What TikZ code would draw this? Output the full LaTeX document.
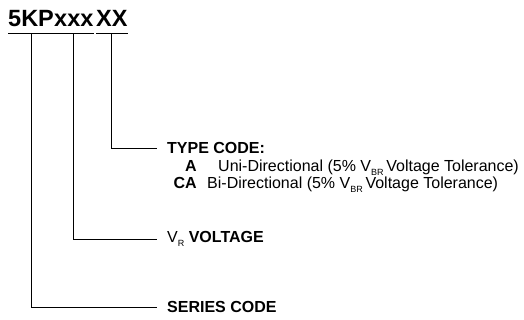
\documentclass[tikz,border=0pt]{standalone}
\usepackage{fontspec}
\setmainfont{Liberation Sans}
\usetikzlibrary{positioning}

\newcommand{\lowsub}[1]{\raisebox{-0.45ex}{\fontsize{9}{9}\selectfont #1}}

\tikzset{
  part/.style={inner sep=0pt, anchor=base west, font=\fontsize{23.5}{26}\selectfont\bfseries},
  label/.style={anchor=west, inner xsep=10pt, inner ysep=0pt, font=\fontsize{16}{19}\selectfont},
  row/.style={inner sep=0pt, font=\fontsize{16}{19}\selectfont},
  wire/.style={line width=0.8pt}
}

\begin{document}
\begin{tikzpicture}[x=1pt,y=-1pt]
\useasboundingbox (0,0) rectangle (524,320);
% part number pieces
\node[part] (kp)  at (8,27)  {5KP};
\node[part] (xxx) at (54,27) {xxx};
\node[part] (xx)  at (96,27) {XX};
\foreach \p in {kp,xxx,xx}
  \draw[wire] ([yshift=-6pt]\p.south west) -- ([yshift=-6pt]\p.south east);
% labels
\node[label] (type)   at (157,148) {\bfseries TYPE CODE:};
\node[label] (volt)   at (157,239) {V\lowsub{R} \bfseries VOLTAGE};
\node[label] (series) at (157,307) {\bfseries SERIES CODE};
\node[row, anchor=base east] (codeA)  at (197,172) {\bfseries A};
\node[row, anchor=base west] (descA)  at (218,172) {Uni-Directional (5\% V\lowsub{BR}\,Voltage Tolerance)};
\node[row, anchor=base east] (codeCA) at (197,189) {\bfseries CA};
\node[row, anchor=base west] (descCA) at (207,189) {Bi-Directional (5\% V\lowsub{BR}\,Voltage Tolerance)};
% leaders
\draw[wire] ([yshift=-6pt]xx.south)  |- (type.west);
\draw[wire] ([yshift=-6pt]xxx.south) |- (volt.west);
\draw[wire] ([yshift=-6pt]kp.south)  |- (series.west);
\end{tikzpicture}
\end{document}
